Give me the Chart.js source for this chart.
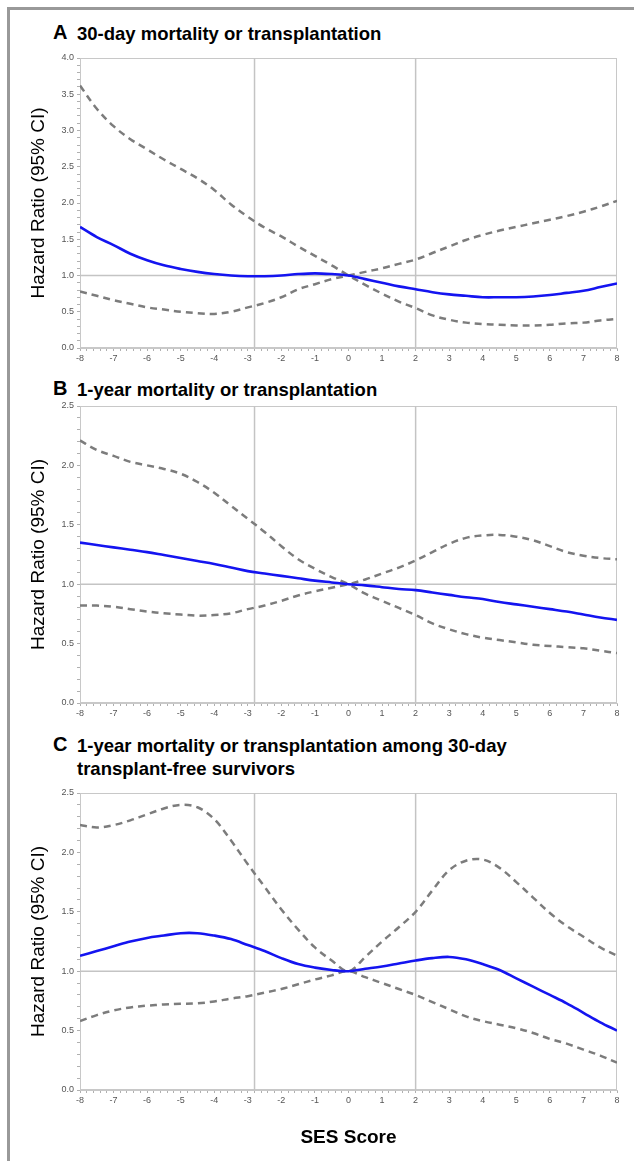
<!DOCTYPE html>
<html>
<head>
<meta charset="utf-8">
<script src="https://cdn.jsdelivr.net/npm/chart.js@4.4.1/dist/chart.umd.min.js"></script>
<style>
  body { margin: 0; background: #fff; font-family: "Liberation Sans", Arial, sans-serif; }
  #page { position: relative; width: 634px; height: 1161px; overflow: hidden; background: #fff; }
  .bar { position: absolute; background: #999; }
  .letter { position: absolute; left: 53px; font-weight: bold; font-size: 20px; line-height: 23px; color: #000; }
  .ptitle { position: absolute; left: 77px; font-weight: bold; font-size: 18.5px; line-height: 23px; color: #000; white-space: nowrap; }
  canvas { position: absolute; left: 0; }
</style>
</head>
<body>
<div id="page">
  <div class="bar" style="left:7px;top:7px;width:627px;height:3px"></div>
  <div class="bar" style="left:7px;top:7px;width:3px;height:1154px"></div>

  <div class="letter" style="top:21px">A</div>
  <div class="ptitle" style="top:22px">30-day mortality or transplantation</div>
  <canvas id="chartA" width="634" height="324" style="top:48px"></canvas>

  <div class="letter" style="top:377px">B</div>
  <div class="ptitle" style="top:378px">1-year mortality or transplantation</div>
  <canvas id="chartB" width="634" height="331" style="top:396px"></canvas>

  <div class="letter" style="top:733px">C</div>
  <div class="ptitle" style="top:734px">1-year mortality or transplantation among 30-day<br>transplant-free survivors</div>
  <canvas id="chartC" width="634" height="372" style="top:783px"></canvas>
</div>

<script>
// SES score grid shared by all three panels
const sesScore = [-8, -7.5, -7, -6.5, -6, -5.5, -5, -4.5, -4, -3.5, -3, -2.5, -2, -1.5, -1, -0.5,
  0, 0.5, 1, 1.5, 2, 2.5, 3, 3.5, 4, 4.5, 5, 5.5, 6, 6.5, 7, 7.5, 8];

// vertical reference lines and the null hazard ratio
const cutPoints = [-2.8, 2];
const nullRatio = 1;

// A: 30-day mortality or transplantation
const hrA    = [1.67, 1.53, 1.42, 1.30, 1.21, 1.14, 1.09, 1.05, 1.02, 1.00, 0.99, 0.99, 1.00, 1.02, 1.03, 1.02,
  1.00, 0.95, 0.90, 0.85, 0.81, 0.77, 0.74, 0.72, 0.70, 0.70, 0.70, 0.71, 0.73, 0.76, 0.79, 0.84, 0.89];
const upperA = [3.62, 3.30, 3.06, 2.88, 2.74, 2.60, 2.47, 2.34, 2.18, 1.98, 1.81, 1.66, 1.54, 1.40, 1.27, 1.14,
  1.00, 0.87, 0.75, 0.64, 0.55, 0.45, 0.39, 0.35, 0.33, 0.32, 0.31, 0.31, 0.32, 0.34, 0.35, 0.38, 0.40];
const lowerA = [0.78, 0.72, 0.66, 0.61, 0.56, 0.53, 0.50, 0.48, 0.47, 0.50, 0.56, 0.62, 0.70, 0.81, 0.88, 0.95,
  1.00, 1.05, 1.10, 1.16, 1.22, 1.31, 1.40, 1.49, 1.56, 1.62, 1.67, 1.72, 1.77, 1.82, 1.88, 1.95, 2.03];

// B: 1-year mortality or transplantation
const hrB    = [1.35, 1.33, 1.31, 1.29, 1.27, 1.245, 1.22, 1.195, 1.17, 1.14, 1.11, 1.09, 1.07, 1.05, 1.03, 1.015,
  1.00, 0.99, 0.975, 0.96, 0.95, 0.93, 0.91, 0.89, 0.875, 0.85, 0.83, 0.81, 0.79, 0.77, 0.745, 0.72, 0.70];
const upperB = [2.21, 2.13, 2.08, 2.03, 2.00, 1.97, 1.93, 1.86, 1.77, 1.66, 1.55, 1.44, 1.32, 1.21, 1.13, 1.06,
  1.00, 0.92, 0.86, 0.80, 0.74, 0.67, 0.62, 0.58, 0.55, 0.53, 0.51, 0.49, 0.48, 0.47, 0.46, 0.44, 0.42];
const lowerB = [0.82, 0.82, 0.81, 0.79, 0.77, 0.755, 0.745, 0.735, 0.74, 0.755, 0.79, 0.82, 0.86, 0.905, 0.94, 0.97,
  1.00, 1.04, 1.09, 1.14, 1.20, 1.27, 1.34, 1.39, 1.41, 1.415, 1.40, 1.37, 1.32, 1.27, 1.24, 1.22, 1.21];

// C: 1-year mortality or transplantation among 30-day transplant-free survivors
const hrC    = [1.13, 1.17, 1.21, 1.25, 1.28, 1.30, 1.32, 1.32, 1.30, 1.27, 1.22, 1.17, 1.11, 1.06, 1.03, 1.01,
  1.00, 1.02, 1.04, 1.065, 1.09, 1.11, 1.12, 1.10, 1.06, 1.01, 0.94, 0.87, 0.80, 0.73, 0.65, 0.57, 0.50];
const upperC = [2.23, 2.21, 2.23, 2.27, 2.32, 2.37, 2.40, 2.38, 2.28, 2.10, 1.90, 1.71, 1.52, 1.35, 1.20, 1.09,
  1.00, 1.12, 1.25, 1.37, 1.50, 1.68, 1.85, 1.93, 1.94, 1.87, 1.75, 1.62, 1.49, 1.38, 1.29, 1.20, 1.13];
const lowerC = [0.58, 0.63, 0.67, 0.695, 0.71, 0.72, 0.725, 0.73, 0.745, 0.77, 0.79, 0.82, 0.85, 0.89, 0.93, 0.965,
  1.00, 0.95, 0.90, 0.85, 0.80, 0.74, 0.68, 0.62, 0.58, 0.55, 0.52, 0.48, 0.43, 0.39, 0.34, 0.29, 0.23];

const xMin = -8, xMax = 8;

// light frame round the plot area (top and right sides aren't drawn by the axes)
const framePlugin = {
  id: 'frame',
  beforeDatasetsDraw(chart) {
    const a = chart.chartArea, ctx = chart.ctx;
    ctx.save();
    ctx.strokeStyle = '#c8c8c8';
    ctx.lineWidth = 1;
    ctx.strokeRect(a.left + 0.5, a.top + 0.5, a.right - a.left - 1, a.bottom - a.top - 1);
    ctx.restore();
  }
};

function toPoints(ys) {
  return sesScore.map((x, i) => ({ x: x, y: ys[i] }));
}

function makePanel(id, hr, lower, upper, yMax, showXTitle) {
  const estimateStyle = { borderColor: '#1414f0', borderWidth: 2.6, pointRadius: 0, tension: 0.35, fill: false };
  const ciStyle = { borderColor: '#7c7c7c', borderWidth: 2.5, borderDash: [7, 5], pointRadius: 0, tension: 0.35, fill: false };
  const refStyle = { borderColor: '#c4c4c4', borderWidth: 1.5, pointRadius: 0, fill: false, tension: 0 };

  const datasets = [
    Object.assign({ data: toPoints(hr) }, estimateStyle),
    Object.assign({ data: toPoints(upper) }, ciStyle),
    Object.assign({ data: toPoints(lower) }, ciStyle),
    Object.assign({ data: [{ x: xMin, y: nullRatio }, { x: xMax, y: nullRatio }] }, refStyle)
  ];
  cutPoints.forEach(c => {
    datasets.push(Object.assign({ data: [{ x: c, y: 0 }, { x: c, y: yMax }] }, refStyle));
  });

  const tickFont = { family: 'Liberation Sans, Arial, sans-serif', size: 9 };

  new Chart(document.getElementById(id), {
    type: 'line',
    data: { datasets: datasets },
    plugins: [framePlugin],
    options: {
      responsive: false,
      animation: false,
      devicePixelRatio: 1,
      layout: { padding: { left: 0, right: 17, top: 10, bottom: 0 } },
      plugins: { legend: { display: false }, tooltip: { enabled: false } },
      scales: {
        x: {
          type: 'linear',
          min: xMin,
          max: xMax,
          border: { color: '#c8c8c8' },
          grid: { drawOnChartArea: false, drawTicks: true, tickLength: 3, tickColor: '#b0b0b0' },
          ticks: {
            stepSize: 0.2,
            maxTicksLimit: 200,
            autoSkip: false,
            maxRotation: 0,
            padding: 2,
            color: '#555',
            font: tickFont,
            callback: v => {
              const r = Math.round(v);
              return Math.abs(v - r) < 1e-6 ? String(r) : '';
            }
          },
          title: {
            display: showXTitle,
            text: 'SES Score',
            color: '#000',
            font: { family: 'Liberation Sans, Arial, sans-serif', size: 19, weight: 'bold' },
            padding: { top: 0, bottom: 6 }
          },
          afterFit: s => { s.height = showXTitle ? 65 : 24; }
        },
        y: {
          min: 0,
          max: yMax,
          border: { color: '#c8c8c8' },
          grid: { drawOnChartArea: false, drawTicks: true, tickLength: 3, tickColor: '#b0b0b0' },
          ticks: {
            stepSize: 0.1,
            maxTicksLimit: 200,
            autoSkip: false,
            padding: 3,
            color: '#555',
            font: tickFont,
            callback: v => {
              const k = Math.round(v * 2);
              return Math.abs(v * 2 - k) < 1e-6 ? (k / 2).toFixed(1) : '';
            }
          },
          title: {
            display: true,
            text: 'Hazard Ratio (95% CI)',
            color: '#000',
            font: { family: 'Liberation Sans, Arial, sans-serif', size: 19 },
            padding: { top: 27, bottom: 0 }
          },
          afterFit: s => { s.width = 80; }
        }
      }
    }
  });
}

makePanel('chartA', hrA, lowerA, upperA, 4, false);
makePanel('chartB', hrB, lowerB, upperB, 2.5, false);
makePanel('chartC', hrC, lowerC, upperC, 2.5, true);
</script>
</body>
</html>
